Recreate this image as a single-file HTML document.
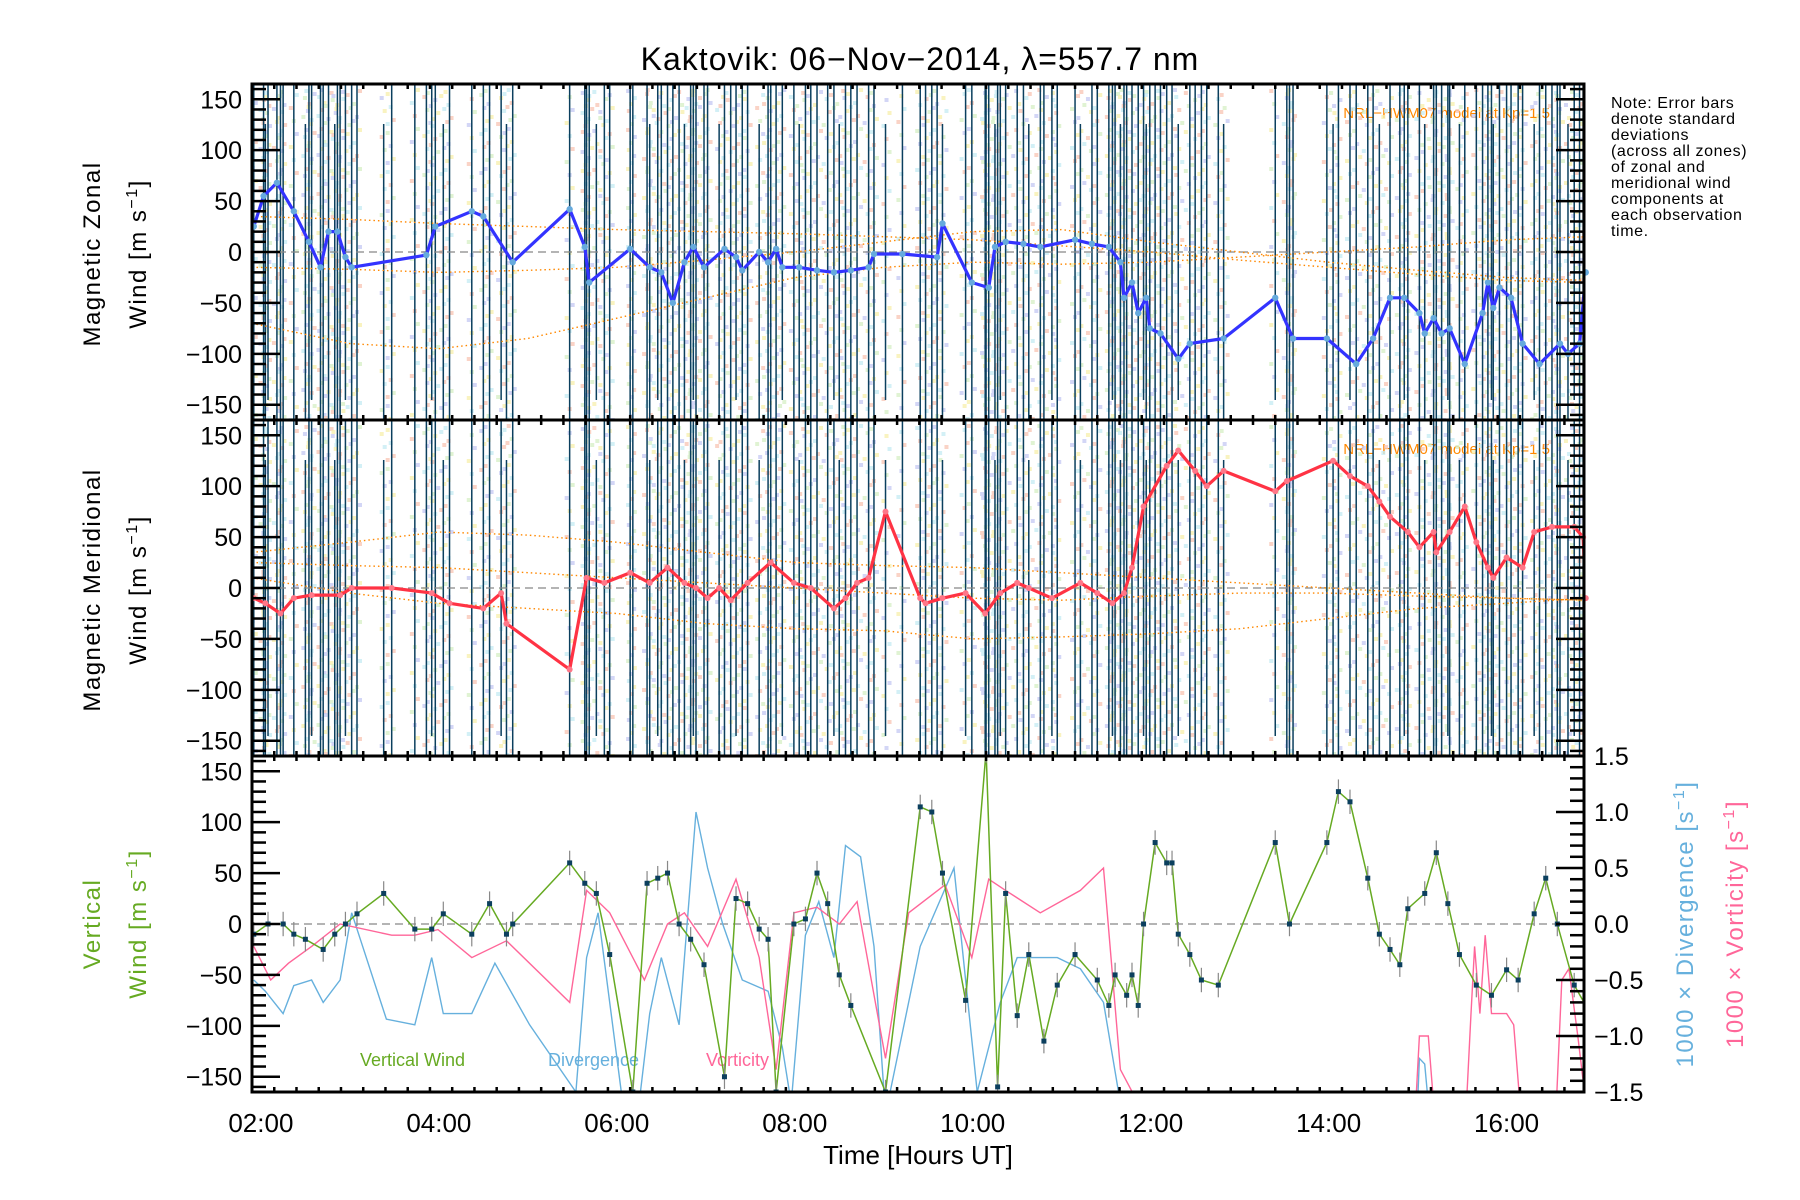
<!DOCTYPE html>
<html><head><meta charset="utf-8"><title>Kaktovik winds</title>
<style>
html,body{margin:0;padding:0;background:#fff;}
svg{display:block;font-family:"Liberation Sans","DejaVu Sans",sans-serif;}
</style></head>
<body>
<svg id="chart" xmlns="http://www.w3.org/2000/svg" width="1800" height="1200" viewBox="0 0 1800 1200">
<rect width="1800" height="1200" fill="#fff"/>
<text x="920" y="70" font-size="32" text-anchor="middle" letter-spacing="1">Kaktovik: 06−Nov−2014, λ=557.7 nm</text>
<g font-size="16" letter-spacing="0.6">
<text x="1611" y="108">Note: Error bars</text>
<text x="1611" y="124">denote standard</text>
<text x="1611" y="140">deviations</text>
<text x="1611" y="156">(across all zones)</text>
<text x="1611" y="172">of zonal and</text>
<text x="1611" y="188">meridional wind</text>
<text x="1611" y="204">components at</text>
<text x="1611" y="220">each observation</text>
<text x="1611" y="236">time.</text>
</g>
<text transform="translate(100,254) rotate(-90)" font-size="24" text-anchor="middle" letter-spacing="1.5">Magnetic Zonal</text>
<text transform="translate(146,254) rotate(-90)" font-size="24" text-anchor="middle" letter-spacing="1.5">Wind [m s<tspan dy="-9" font-size="16">−1</tspan><tspan dy="9">]</tspan></text>
<text transform="translate(100,590) rotate(-90)" font-size="24" text-anchor="middle" letter-spacing="1.5">Magnetic Meridional</text>
<text transform="translate(146,590) rotate(-90)" font-size="24" text-anchor="middle" letter-spacing="1.5">Wind [m s<tspan dy="-9" font-size="16">−1</tspan><tspan dy="9">]</tspan></text>
<text transform="translate(100,924) rotate(-90)" font-size="24" fill="#66aa22" text-anchor="middle" letter-spacing="1.5">Vertical</text>
<text transform="translate(146,924) rotate(-90)" font-size="24" fill="#66aa22" text-anchor="middle" letter-spacing="1.5">Wind [m s<tspan dy="-9" font-size="16">−1</tspan><tspan dy="9">]</tspan></text>
<text transform="translate(1693,924) rotate(-90)" font-size="24" fill="#66b0dd" text-anchor="middle" letter-spacing="1.5">1000 × Divergence [s<tspan dy="-9" font-size="16">−1</tspan><tspan dy="9">]</tspan></text>
<text transform="translate(1743,924) rotate(-90)" font-size="24" fill="#ff6699" text-anchor="middle" letter-spacing="1.5">1000 × Vorticity [s<tspan dy="-9" font-size="16">−1</tspan><tspan dy="9">]</tspan></text>
<text x="918" y="1164" font-size="26" text-anchor="middle">Time [Hours UT]</text>
<text x="360" y="1066" font-size="18" fill="#66aa22">Vertical Wind</text>
<text x="548" y="1066" font-size="18" fill="#66b0dd">Divergence</text>
<text x="706" y="1066" font-size="18" fill="#ff6699">Vorticity</text>
<text x="1550" y="118" font-size="15" fill="#ff8800" text-anchor="end">NRL−HWM07 model at Kp=1.5</text>
<text x="1550" y="454" font-size="15" fill="#ff8800" text-anchor="end">NRL−HWM07 model at Kp=1.5</text>
</svg>
<script>
// ---------- data ----------
const zonalT=[1.92,2.03,2.18,2.37,2.54,2.67,2.76,2.86,2.95,3.02,3.86,3.96,4.37,4.50,4.83,5.47,5.64,5.69,6.15,6.37,6.50,6.63,6.76,6.86,6.98,7.21,7.34,7.41,7.60,7.70,7.79,7.86,8.05,8.25,8.44,8.63,8.83,8.89,9.21,9.60,9.66,9.99,10.18,10.25,10.37,10.57,10.76,11.15,11.34,11.53,11.66,11.70,11.79,11.86,11.95,11.99,12.11,12.31,12.44,12.82,13.40,13.60,13.98,14.31,14.50,14.69,14.85,15.02,15.08,15.18,15.27,15.36,15.53,15.73,15.79,15.85,15.92,16.05,16.18,16.37,16.60,16.69,16.82,16.89];
const zonalV=[25,55,68,40,10,-15,20,20,-5,-15,-3,25,40,35,-10,42,5,-30,3,-15,-20,-50,-10,5,-15,3,-5,-18,0,-10,3,-15,-15,-18,-20,-18,-15,-2,-2,-5,28,-30,-35,5,10,8,5,12,8,5,-10,-45,-30,-60,-45,-75,-80,-105,-90,-85,-45,-85,-85,-110,-85,-45,-45,-60,-80,-65,-80,-75,-110,-60,-30,-55,-35,-45,-90,-110,-90,-100,-90,-20];
const merT=[1.92,2.05,2.22,2.37,2.57,2.89,3.02,3.47,3.92,4.12,4.50,4.70,4.76,5.47,5.66,5.86,6.15,6.37,6.57,6.76,6.89,7.02,7.15,7.28,7.47,7.73,7.99,8.18,8.44,8.57,8.70,8.83,9.02,9.41,9.47,9.66,9.92,10.14,10.31,10.50,10.63,10.89,11.21,11.40,11.57,11.70,11.79,11.92,12.18,12.31,12.50,12.63,12.82,13.40,13.53,14.05,14.24,14.44,14.57,14.69,14.89,15.02,15.18,15.21,15.36,15.53,15.66,15.79,15.85,16.0,16.18,16.31,16.51,16.76,16.86,16.89];
const merV=[-10,-15,-25,-10,-7,-7,0,0,-5,-15,-20,-5,-35,-80,10,5,15,5,20,5,0,-10,0,-12,5,25,5,0,-20,-10,5,10,75,-10,-15,-10,-5,-25,-5,5,0,-10,5,-5,-15,-5,20,80,120,135,115,100,115,95,105,125,110,100,85,70,55,40,55,35,55,80,45,20,10,30,20,55,60,60,50,-10];
const vertT=[1.92,2.08,2.25,2.37,2.50,2.70,2.83,2.95,3.08,3.38,3.73,3.92,4.05,4.37,4.57,4.76,4.83,5.47,5.64,5.77,5.92,6.18,6.34,6.46,6.57,6.70,6.83,6.98,7.21,7.34,7.47,7.60,7.70,7.79,7.99,8.12,8.25,8.37,8.50,8.63,9.02,9.41,9.54,9.66,9.92,10.15,10.28,10.37,10.50,10.63,10.80,10.95,11.15,11.40,11.53,11.60,11.73,11.79,11.86,11.92,12.05,12.18,12.24,12.31,12.44,12.57,12.76,13.40,13.56,13.98,14.11,14.24,14.44,14.57,14.69,14.80,14.89,15.08,15.21,15.34,15.47,15.66,15.83,16.0,16.13,16.31,16.44,16.57,16.76,16.89];
const vertV=[-10,0,0,-10,-15,-25,-10,0,10,30,-5,-5,10,-10,20,-10,0,60,40,30,-30,-165,40,45,50,0,-15,-40,-150,25,20,-5,-15,-165,0,5,50,20,-50,-80,-165,115,110,50,-75,170,-160,30,-90,-30,-115,-60,-30,-55,-80,-50,-70,-50,-80,0,80,60,60,-10,-30,-55,-60,80,0,80,130,120,45,-10,-25,-40,15,30,70,20,-30,-60,-70,-45,-55,10,45,0,-60,-80];
const divT=[1.92,2.05,2.25,2.37,2.57,2.70,2.89,3.02,3.41,3.73,3.92,4.05,4.37,4.63,5.02,5.54,5.66,5.79,6.05,6.25,6.37,6.50,6.70,6.89,7.02,7.19,7.41,7.70,7.86,7.96,8.12,8.27,8.44,8.57,8.74,8.89,9.02,9.41,9.79,10.05,10.31,10.50,10.70,10.95,11.21,11.47,11.66];
const divV=[-0.5,-0.6,-0.8,-0.55,-0.5,-0.7,-0.5,0.1,-0.85,-0.9,-0.3,-0.8,-0.8,-0.35,-0.9,-1.5,-0.3,0.1,-1.5,-1.6,-0.8,-0.3,-0.9,1.0,0.5,0,-0.5,-0.6,-1.1,-1.6,-0.1,0.2,-0.3,0.7,0.6,-0.2,-1.7,-0.2,0.5,-1.5,-0.7,-0.3,-0.3,-0.3,-0.4,-0.7,-1.6];
const div2T=[15.0,15.02,15.08,15.12];
const div2V=[-1.6,-1.2,-1.25,-1.6];
const vorT=[1.92,2.11,2.31,2.57,2.89,3.47,3.73,3.99,4.37,4.76,5.47,5.66,5.92,6.31,6.57,6.76,7.02,7.34,7.60,7.79,7.99,8.25,8.50,8.70,9.02,9.28,9.69,9.99,10.18,10.37,10.76,11.21,11.47,11.66,11.86];
const vorV=[-0.2,-0.5,-0.35,-0.2,0,-0.1,-0.1,-0.05,-0.3,-0.15,-0.7,0.3,0.1,-0.5,0,0.1,-0.2,0.4,-0.3,-1.3,0.1,0.15,0,0.2,-1.2,0.1,0.35,-0.3,0.4,0.3,0.1,0.3,0.5,-1.3,-1.6];
const vor2T=[14.98,15.02,15.08,15.12,15.18,15.55,15.6,15.64,15.7,15.76,15.83,15.9,16.0,16.08,16.15,16.2,16.56,16.62,16.7,16.8,16.89];
const vor2V=[-1.6,-1.0,-1.0,-1.0,-1.6,-1.6,-0.8,-0.2,-0.8,-0.1,-0.8,-0.8,-0.8,-0.9,-1.6,-1.6,-1.6,-0.5,-0.4,-1.0,-1.6];
const modelT=[1.9,3,4,5,6,7,8,9,10,11,12,13,14,15,16,16.9];
const modelZ1=[35,32,28,25,22,20,18,15,12,6,0,-8,-15,-22,-28,-30];
const modelZ2=[-15,-17,-20,-18,-15,-8,0,10,20,22,10,0,-10,-18,-25,-28];
const modelZ3=[-70,-90,-95,-85,-65,-45,-25,-15,-10,-12,-10,-5,0,5,12,15];
const modelM1=[35,45,55,52,45,35,25,22,20,15,10,5,0,-5,-10,-12];
const modelM2=[25,22,20,15,10,5,0,-5,-10,-12,-8,-5,-5,-8,-10,-12];
const modelM3=[10,-5,-15,-20,-25,-35,-40,-42,-50,-48,-45,-40,-30,-20,-15,-10];
const xTickLabels=["02:00","04:00","06:00","08:00","10:00","12:00","14:00","16:00"];
const xTickHours=[2,4,6,8,10,12,14,16];
const yTickVals=[-150,-100,-50,0,50,100,150];
const rTickVals=[-1.5,-1.0,-0.5,0.0,0.5,1.0,1.5];

// ---------- geometry / scales ----------
const svg=document.getElementById('chart');
const NS='http://www.w3.org/2000/svg';
const L=252,R=1584,H0=1.9,H1=16.87;
const panels=[{top:84,bot:420},{top:420,bot:756},{top:756,bot:1092}];
function X(h){return L+(h-H0)/(H1-H0)*(R-L);}
function Y(p,v){const P=panels[p];const mid=(P.top+P.bot)/2;return mid-v/165*(P.bot-P.top)/2;}
function YR(v){const P=panels[2];const mid=(P.top+P.bot)/2;return mid-v/1.5*(P.bot-P.top)/2;}
function mk(tag,attrs,parent){const e=document.createElementNS(NS,tag);for(const k in attrs)e.setAttribute(k,attrs[k]);(parent||svg).appendChild(e);return e;}

const defs=mk('defs',{});
panels.forEach((P,i)=>{const c=mk('clipPath',{id:'clip'+i},defs);mk('rect',{x:L,y:P.top,width:R-L,height:P.bot-P.top},c);});

// union of observation times
const obsSet={};
zonalT.concat(merT,vertT).forEach(t=>{obsSet[t.toFixed(2)]=t;});
const obsT=Object.values(obsSet).sort((a,b)=>a-b);
const pastel=['#f9c8b8','#d8f0c8','#c8ccf4','#f8f0b0','#c8ecf4'];
for(let p=0;p<2;p++){
  const g=mk('g',{'clip-path':'url(#clip'+p+')'});
  
  
  obsT.forEach((t,i)=>{
    for(let y=panels[p].top+4+(i*7)%11;y<panels[p].bot;y+=13){
      const k=(i+Math.floor(y/13))%5;
      const d=mk('rect',{x:X(t)-6+((y*3+i)%9),y:y,width:4,height:4,fill:pastel[k],opacity:0.8},g);
      
      
    }
  });
  obsT.forEach((t,i)=>{
    const l=mk('line',{x1:X(t),x2:X(t),y1:panels[p].top+(i%6==2?40:0),y2:panels[p].bot-(i%7==3?20:0),stroke:'#0b3f5e','stroke-width':1.5},g);
    
    
  });
}

for(let p=0;p<3;p++){
  const z=mk('line',{x1:L,x2:R,y1:Y(p,0),y2:Y(p,0),stroke:'#888','stroke-dasharray':'8,5','stroke-width':1.2});
  
  
}

function poly(p,T,V,yf,attrs,name){
  const pts=T.map((t,i)=>X(t).toFixed(1)+','+yf(V[i]).toFixed(1)).join(' ');
  const e=mk('polyline',Object.assign({points:pts,fill:'none','clip-path':'url(#clip'+p+')'},attrs));
  
  
  return e;
}
const mAttr={stroke:'#ff8800','stroke-width':1.4,'stroke-dasharray':'1.5,3'};
poly(0,modelT,modelZ1,v=>Y(0,v),mAttr,'model-zonal-curve-1');
poly(0,modelT,modelZ2,v=>Y(0,v),mAttr,'model-zonal-curve-2');
poly(0,modelT,modelZ3,v=>Y(0,v),mAttr,'model-zonal-curve-3');
poly(1,modelT,modelM1,v=>Y(1,v),mAttr,'model-meridional-curve-1');
poly(1,modelT,modelM2,v=>Y(1,v),mAttr,'model-meridional-curve-2');
poly(1,modelT,modelM3,v=>Y(1,v),mAttr,'model-meridional-curve-3');

poly(0,zonalT,zonalV,v=>Y(0,v),{stroke:'#3333ff','stroke-width':3.2,'stroke-linejoin':'round'},'zonal-wind-line');
zonalT.forEach((t,i)=>{const c=mk('circle',{cx:X(t),cy:Y(0,zonalV[i]),r:3.2,fill:'#66aadd'});
  
  });
poly(1,merT,merV,v=>Y(1,v),{stroke:'#ff3344','stroke-width':3.2,'stroke-linejoin':'round'},'meridional-wind-line');
merT.forEach((t,i)=>{const c=mk('circle',{cx:X(t),cy:Y(1,merV[i]),r:3,fill:'#ff7788'});
  
  });

poly(2,divT,divV,YR,{stroke:'#66b0dd','stroke-width':1.4},'divergence-line');
poly(2,div2T,div2V,YR,{stroke:'#66b0dd','stroke-width':1.4},'divergence-line-late');
poly(2,vorT,vorV,YR,{stroke:'#ff6699','stroke-width':1.4},'vorticity-line');
poly(2,vor2T,vor2V,YR,{stroke:'#ff6699','stroke-width':1.4},'vorticity-line-late');
poly(2,vertT,vertV,v=>Y(2,v),{stroke:'#66aa22','stroke-width':1.5},'vertical-wind-line');
vertT.forEach((t,i)=>{
  const eb=mk('line',{x1:X(t),x2:X(t),y1:Y(2,vertV[i]+12),y2:Y(2,vertV[i]-12),stroke:'#888','stroke-width':1.2,'clip-path':'url(#clip2)'});
  
  
  const s=mk('rect',{x:X(t)-2.5,y:Y(2,vertV[i])-2.5,width:5,height:5,fill:'#0b3f5e','clip-path':'url(#clip2)'});
  
  
});

for(let p=0;p<3;p++){
  const P=panels[p];
  const fr=mk('rect',{x:L,y:P.top,width:R-L,height:P.bot-P.top,fill:'none',stroke:'#000','stroke-width':3});
  
  
  const g=mk('g',{stroke:'#000','stroke-width':2.5});
  
  
  for(let v=-160;v<=160;v+=10){
    const y=Y(p,v);const len=(v%50==0)?28:14;
    mk('line',{x1:L,x2:L+len,y1:y,y2:y},g);
    if(p<2) mk('line',{x1:R,x2:R-len,y1:y,y2:y},g);
  }
  if(p==2){for(let k=-15;k<=15;k++){const v=k/10;const y=YR(v);const len=(k%5==0)?28:14;mk('line',{x1:R,x2:R-len,y1:y,y2:y},g);}}
  for(let m=2*60-6;m<=H1*60;m+=15){const h=m/60;if(h<H0)continue;const x=X(h);const len=(m%120==0)?10:5;
    mk('line',{x1:x,x2:x,y1:P.bot,y2:P.bot-len},g);mk('line',{x1:x,x2:x,y1:P.top,y2:P.top+len},g);}
  yTickVals.forEach(v=>{
    const t=mk('text',{x:L-10,y:Y(p,v)+9,'font-size':25,'text-anchor':'end'});
    t.textContent=(v<0?'−':'')+Math.abs(v);
    
    
  });
}
rTickVals.forEach(v=>{
  const t=mk('text',{x:R+10,y:YR(v)+9,'font-size':25});
  t.textContent=(v<0?'−':'')+Math.abs(v).toFixed(1);
  
  
});
xTickHours.forEach((h,i)=>{
  const t=mk('text',{x:X(h),y:1132,'font-size':26,'text-anchor':'middle'});
  t.textContent=xTickLabels[i];
  
  
});
</script>
</body></html>
